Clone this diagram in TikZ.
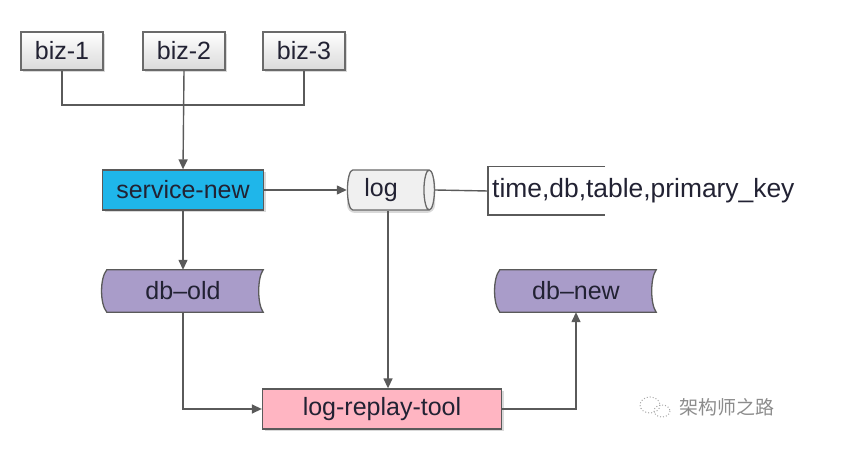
\documentclass[tikz,border=0pt]{standalone}
\usepackage{fontspec}
\setmainfont{Liberation Sans}
\newfontfamily\cjkfont{Noto Sans CJK SC}
\usetikzlibrary{arrows.meta,shapes.geometric,shadows,calc}
\definecolor{linegray}{HTML}{5A5A5A}
\definecolor{bordergray}{HTML}{6A6A6A}
\definecolor{svccyan}{HTML}{1FB6EA}
\definecolor{dbpurple}{HTML}{A99CC9}
\definecolor{toolpink}{HTML}{FFB5C2}
\definecolor{bizfill}{HTML}{F2F2F2}
\definecolor{txt}{HTML}{222233}
\tikzset{
  base/.style={font=\fontsize{25}{28}\selectfont, text=txt, inner sep=0pt, align=center},
  shad/.style={drop shadow={shadow xshift=2pt, shadow yshift=-2pt, opacity=0.25, fill=black!60}},
  bizbox/.style={base, draw=bordergray, line width=1.3pt, top color=white, bottom color=bizfill!90!black, minimum width=82, minimum height=38, shad},
  svcbox/.style={base, draw=linegray, line width=1.3pt, fill=svccyan, minimum width=161, minimum height=40, shad},
  toolbox/.style={base, draw=linegray, line width=1.3pt, fill=toolpink, minimum width=239, minimum height=40, shad},
  logcyl/.style={base, cylinder, shape border rotate=0, draw=bordergray, line width=1.3pt, fill=white!94!black, minimum height=87, minimum width=40, aspect=0.45},
  dbbox/.style={base, minimum width=160, minimum height=42},
  dbshape/.style={draw=linegray, line width=1.3pt, fill=dbpurple},
  annot/.style={base, font=\fontsize{26.4}{29}\selectfont, anchor=west, minimum height=48, inner xsep=4pt},
  conn/.style={draw=linegray, line width=1.4pt},
  arr/.style={conn, -{Triangle[length=10pt,width=9pt]}},
}
\begin{document}
\begin{tikzpicture}[x=1pt,y=-1pt]
\useasboundingbox (0,0) rectangle (846,462);

% nodes
\node[bizbox] (biz1) at (62,51) {biz-1};
\node[bizbox] (biz2) at (184,51) {biz-2};
\node[bizbox] (biz3) at (304,51) {biz-3};
\node[svcbox] (svc) at (183,190) {service-new};
\fill[black!60, opacity=0.25, rounded corners=8pt] (347,174) rectangle (435,213);
\node[logcyl] (log) at (388,190) {log\hspace*{14pt}};
\node[annot] (ann) at (488,191) {time,db,table,primary\_key};
\node[dbbox] (dbold) at (183,291) {};
\node[dbbox] (dbnew) at (576,291) {};
\node[toolbox] (tool) at (382,409) {log-replay-tool};

% stored-data shapes
\foreach \n/\t in {dbold/db–old, dbnew/db–new}{
  \fill[black!60, opacity=0.25, shift={(2pt,-2pt)}]
    ($(\n.north west)+(4,0)$) -- (\n.north east)
    .. controls ($(\n.north east)+(-6,8)$) and ($(\n.south east)+(-6,-8)$) .. (\n.south east)
    -- ($(\n.south west)+(4,0)$)
    .. controls ($(\n.south west)+(-3,-8)$) and ($(\n.north west)+(-3,8)$) .. cycle;
  \path[dbshape]
    ($(\n.north west)+(4,0)$) -- (\n.north east)
    .. controls ($(\n.north east)+(-6,8)$) and ($(\n.south east)+(-6,-8)$) .. (\n.south east)
    -- ($(\n.south west)+(4,0)$)
    .. controls ($(\n.south west)+(-3,-8)$) and ($(\n.north west)+(-3,8)$) .. cycle;
  \node[base] at (\n) {\t};
}

% connectors
\coordinate (junc) at (184,105);
\draw[conn] (biz1.south) |- (junc) -| (biz3.south);
\draw[arr] (biz2.south) -- (svc.north);
\draw[arr] (svc.east) -- (log.west);
\draw[conn] (log.east) -- (ann.west);
\draw[conn] ($(ann.north west)+(117,0)$) -- (ann.north west) -- (ann.south west) -- ($(ann.south west)+(117,0)$);
\draw[arr] (svc.south) -- (dbold.north);
\draw[arr] (dbold.south) |- (tool.west);
\draw[arr] (log.south) -- (log.south |- tool.north);
\draw[arr] (tool.east) -| (dbnew.south);

% watermark
\node[font=\cjkfont\fontsize{19}{22}\selectfont, text=black!45, anchor=west, inner sep=0pt] (wm) at (679,407) {架构师之路};
\draw[black!35, line width=1pt, dotted] (650,405) ellipse (10 and 8);
\draw[black!35, line width=1pt, dotted] (662,411) ellipse (8 and 6);
\end{tikzpicture}
\end{document}
